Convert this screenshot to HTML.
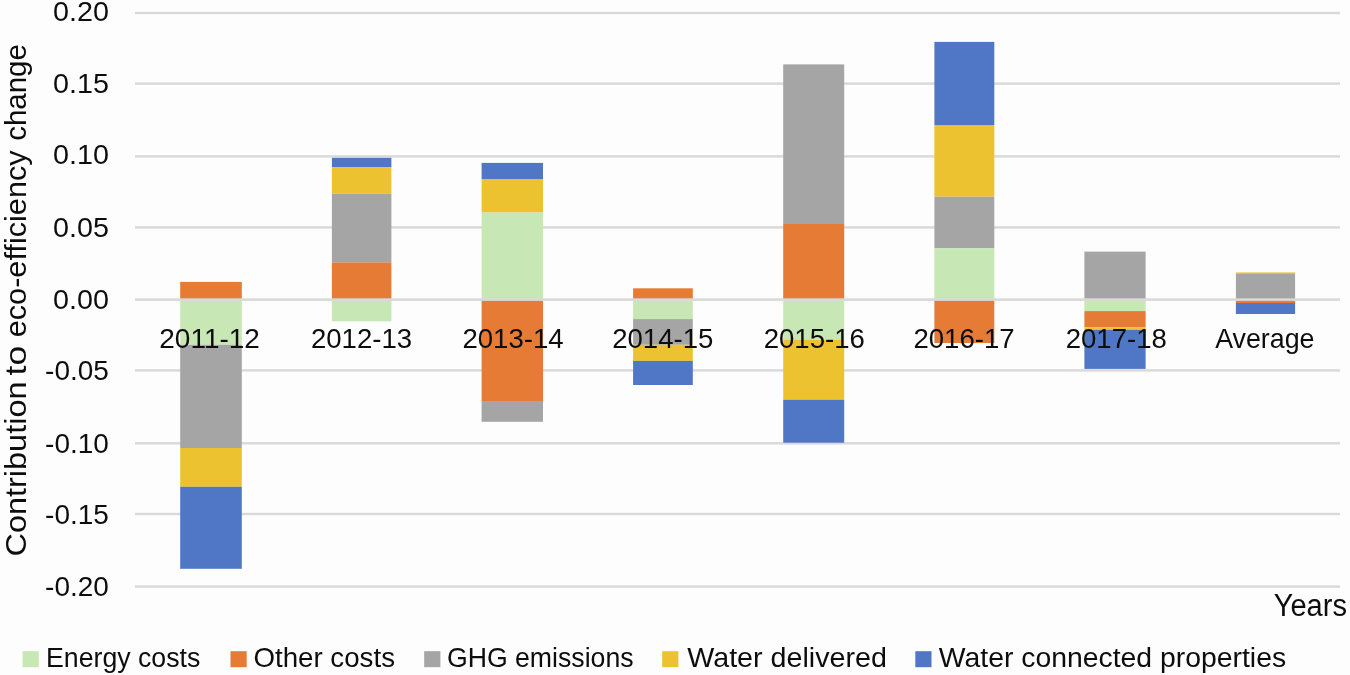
<!DOCTYPE html>
<html><head><meta charset="utf-8"><style>
html,body{margin:0;padding:0;background:#fdfdfd;}
svg{display:block;}
text{font-family:"Liberation Sans",sans-serif;fill:#0d0d0d;}
.t{opacity:0.999;}
svg{will-change:transform;}
</style></head><body>
<svg width="1350" height="675" viewBox="0 0 1350 675">
<rect x="0" y="0" width="1350" height="675" fill="#fdfdfd"/>

<rect x="135" y="11.8" width="1205" height="2.4" fill="#d9d9d9"/>
<rect x="135" y="82.4" width="1205" height="2.4" fill="#d9d9d9"/>
<rect x="135" y="155.2" width="1205" height="2.4" fill="#d9d9d9"/>
<rect x="135" y="226.2" width="1205" height="2.4" fill="#d9d9d9"/>
<rect x="135" y="369.2" width="1205" height="2.4" fill="#d9d9d9"/>
<rect x="135" y="442.1" width="1205" height="2.4" fill="#d9d9d9"/>
<rect x="135" y="512.8" width="1205" height="2.4" fill="#d9d9d9"/>
<rect x="135" y="585.4" width="1205" height="2.4" fill="#d9d9d9"/>
<rect x="180.2" y="281.9" width="61.6" height="17.7" fill="#e57b35"/>
<rect x="180.2" y="299.6" width="61.6" height="45.2" fill="#c7e7b5"/>
<rect x="180.2" y="344.8" width="61.6" height="103.2" fill="#a5a5a5"/>
<rect x="180.2" y="448" width="61.6" height="38.8" fill="#ecc231"/>
<rect x="180.2" y="486.8" width="61.6" height="82.0" fill="#4f77c6"/>
<rect x="331.9" y="157.8" width="59.5" height="9.6" fill="#4f77c6"/>
<rect x="331.9" y="167.4" width="59.5" height="26.3" fill="#ecc231"/>
<rect x="331.9" y="193.7" width="59.5" height="68.7" fill="#a5a5a5"/>
<rect x="331.9" y="262.4" width="59.5" height="37.2" fill="#e57b35"/>
<rect x="331.9" y="299.6" width="59.5" height="21.7" fill="#c7e7b5"/>
<rect x="481.6" y="162.9" width="61.4" height="16.1" fill="#4f77c6"/>
<rect x="481.6" y="179" width="61.4" height="33.6" fill="#ecc231"/>
<rect x="481.6" y="212.6" width="61.4" height="87.0" fill="#c7e7b5"/>
<rect x="481.6" y="299.6" width="61.4" height="101.4" fill="#e57b35"/>
<rect x="481.6" y="401" width="61.4" height="20.8" fill="#a5a5a5"/>
<rect x="633.1" y="288.3" width="59.7" height="11.3" fill="#e57b35"/>
<rect x="633.1" y="299.6" width="59.7" height="19.5" fill="#c7e7b5"/>
<rect x="633.1" y="319.1" width="59.7" height="25.7" fill="#a5a5a5"/>
<rect x="633.1" y="344.8" width="59.7" height="16.1" fill="#ecc231"/>
<rect x="633.1" y="360.9" width="59.7" height="24.1" fill="#4f77c6"/>
<rect x="783.2" y="64.4" width="61.0" height="159.6" fill="#a5a5a5"/>
<rect x="783.2" y="224" width="61.0" height="75.6" fill="#e57b35"/>
<rect x="783.2" y="299.6" width="61.0" height="40.0" fill="#c7e7b5"/>
<rect x="783.2" y="339.6" width="61.0" height="60.1" fill="#ecc231"/>
<rect x="783.2" y="399.7" width="61.0" height="43.0" fill="#4f77c6"/>
<rect x="934.4" y="41.9" width="59.9" height="83.6" fill="#4f77c6"/>
<rect x="934.4" y="125.5" width="59.9" height="71.2" fill="#ecc231"/>
<rect x="934.4" y="196.7" width="59.9" height="51.6" fill="#a5a5a5"/>
<rect x="934.4" y="248.3" width="59.9" height="51.3" fill="#c7e7b5"/>
<rect x="934.4" y="299.6" width="59.9" height="43.4" fill="#e57b35"/>
<rect x="1084.4" y="251.6" width="61.2" height="48.0" fill="#a5a5a5"/>
<rect x="1084.4" y="299.6" width="61.2" height="11.5" fill="#c7e7b5"/>
<rect x="1084.4" y="311.1" width="61.2" height="16.3" fill="#e57b35"/>
<rect x="1084.4" y="327.4" width="61.2" height="2.4" fill="#ecc231"/>
<rect x="1084.4" y="329.8" width="61.2" height="39.1" fill="#4f77c6"/>
<rect x="1235.9" y="272.4" width="59.2" height="1.6" fill="#ecc231"/>
<rect x="1235.9" y="274" width="59.2" height="25.6" fill="#a5a5a5"/>
<rect x="1235.9" y="299.6" width="59.2" height="3.4" fill="#e57b35"/>
<rect x="1235.9" y="303" width="59.2" height="11.0" fill="#4f77c6"/>
<rect x="135" y="298.3" width="1205" height="2.6" fill="#d9d9d9"/>
<g class="t">
<text x="108.9" y="20.9" font-size="27.5" text-anchor="end" textLength="55.9" lengthAdjust="spacingAndGlyphs">0.20</text>
<text x="108.9" y="93.4" font-size="27.5" text-anchor="end" textLength="55.9" lengthAdjust="spacingAndGlyphs">0.15</text>
<text x="108.9" y="164.3" font-size="27.5" text-anchor="end" textLength="55.9" lengthAdjust="spacingAndGlyphs">0.10</text>
<text x="108.9" y="237.0" font-size="27.5" text-anchor="end" textLength="55.9" lengthAdjust="spacingAndGlyphs">0.05</text>
<text x="108.9" y="309.4" font-size="27.5" text-anchor="end" textLength="55.9" lengthAdjust="spacingAndGlyphs">0.00</text>
<text x="108.9" y="380.2" font-size="27.5" text-anchor="end" textLength="63.8" lengthAdjust="spacingAndGlyphs">-0.05</text>
<text x="108.9" y="452.8" font-size="27.5" text-anchor="end" textLength="63.8" lengthAdjust="spacingAndGlyphs">-0.10</text>
<text x="108.9" y="523.7" font-size="27.5" text-anchor="end" textLength="63.8" lengthAdjust="spacingAndGlyphs">-0.15</text>
<text x="108.9" y="596.4" font-size="27.5" text-anchor="end" textLength="63.8" lengthAdjust="spacingAndGlyphs">-0.20</text>
<text x="209.6" y="348" font-size="27.5" text-anchor="middle" textLength="100.7" lengthAdjust="spacingAndGlyphs">2011-12</text>
<text x="361.5" y="348" font-size="27.5" text-anchor="middle" textLength="101.25" lengthAdjust="spacingAndGlyphs">2012-13</text>
<text x="513.0" y="348" font-size="27.5" text-anchor="middle" textLength="101.25" lengthAdjust="spacingAndGlyphs">2013-14</text>
<text x="662.8" y="348" font-size="27.5" text-anchor="middle" textLength="101.25" lengthAdjust="spacingAndGlyphs">2014-15</text>
<text x="814.3" y="348" font-size="27.5" text-anchor="middle" textLength="101.25" lengthAdjust="spacingAndGlyphs">2015-16</text>
<text x="964.0" y="348" font-size="27.5" text-anchor="middle" textLength="101.25" lengthAdjust="spacingAndGlyphs">2016-17</text>
<text x="1116.3" y="348" font-size="27.5" text-anchor="middle" textLength="101.25" lengthAdjust="spacingAndGlyphs">2017-18</text>
<text x="1264.8" y="348" font-size="27.5" text-anchor="middle" textLength="99.3" lengthAdjust="spacingAndGlyphs">Average</text>
<rect x="22.6" y="651.2" width="16.2" height="16" fill="#c7e7b5"/>
<text x="46.0" y="667" font-size="27.5" textLength="154.3" lengthAdjust="spacingAndGlyphs">Energy costs</text>
<rect x="230.5" y="651.2" width="16.2" height="16" fill="#e57b35"/>
<text x="253.4" y="667" font-size="27.5" textLength="141.6" lengthAdjust="spacingAndGlyphs">Other costs</text>
<rect x="424.2" y="651.2" width="16.2" height="16" fill="#a5a5a5"/>
<text x="446.9" y="667" font-size="27.5" textLength="186.7" lengthAdjust="spacingAndGlyphs">GHG emissions</text>
<rect x="662.2" y="651.2" width="16.2" height="16" fill="#ecc231"/>
<text x="687.2" y="667" font-size="27.5" textLength="199.7" lengthAdjust="spacingAndGlyphs">Water delivered</text>
<rect x="915.3" y="651.2" width="16.2" height="16" fill="#4f77c6"/>
<text x="938.8" y="667" font-size="27.5" textLength="347.3" lengthAdjust="spacingAndGlyphs">Water connected properties</text>
<text x="1347" y="615.7" font-size="31" text-anchor="end" textLength="73.3" lengthAdjust="spacingAndGlyphs">Years</text>
<text transform="translate(25.8,556.5) rotate(-90)" font-size="29.5" textLength="175.0" lengthAdjust="spacingAndGlyphs">Contribution</text>
<text transform="translate(25.8,375.5) rotate(-90)" font-size="29.5" textLength="29.7" lengthAdjust="spacingAndGlyphs">to</text>
<text transform="translate(25.8,337.3) rotate(-90)" font-size="29.5" textLength="186.9" lengthAdjust="spacingAndGlyphs">eco-efficiency</text>
<text transform="translate(25.8,140.8) rotate(-90)" font-size="29.5" textLength="96.7" lengthAdjust="spacingAndGlyphs">change</text>
</g>
</svg></body></html>
